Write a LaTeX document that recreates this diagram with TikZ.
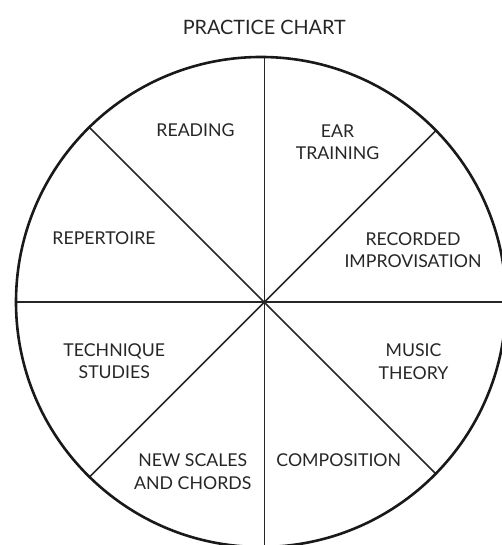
\documentclass[tikz,border=0pt]{standalone}
\usepackage{fontspec}
\setmainfont{Lato}
\usepackage{tikz}
\usetikzlibrary{positioning}
\tikzstyle{slice} = [align=center, inner sep=0pt, font=\fontsize{17.7}{22.5}\selectfont, text=black!85]
\tikzstyle{rim} = [draw, line width=2.6pt, black!90]
\tikzstyle{line} = [draw, line width=1.6pt, black!85]

\begin{document}
\begin{tikzpicture}[x=1pt, y=1pt]
			\useasboundingbox (0, 0) rectangle (502, 545);
			\clip (0, 0) rectangle (502, 545);
			\coordinate (c) at (261, 243);
			\coordinate (o) at (264.3, 242.7);

			\node [font=\fontsize{19.8}{24}\selectfont, inner sep=0pt, text=black!85] (title) at (264.2, 517.8) {PRACTICE CHART};

			% spokes, cut at the rim
			\begin{scope}
				\clip (c) circle (245);
				\foreach \a in {0, 45, ..., 315}
					\path [line] (o) -- ++(\a:300);
			\end{scope}
			\path [rim] (c) circle (245);

			\node [slice] (reading) at (195.5, 414.5) {READING};
			\node [slice] (ear) at (337.5, 402.8) {EAR\\TRAINING};
			\node [slice] (repertoire) at (104, 306.7) {REPERTOIRE};
			\node [slice] (recorded) at (413, 294.8) {RECORDED\\IMPROVISATION};
			\node [slice] (technique) at (114.3, 184) {TECHNIQUE\\STUDIES};
			\node [slice] (theory) at (413.5, 183.3) {MUSIC\\THEORY};
			\node [slice] (scales) at (192.8, 73.3) {NEW SCALES\\AND CHORDS};
			\node [slice] (composition) at (338.8, 85) {COMPOSITION};
		\end{tikzpicture}
\end{document}
